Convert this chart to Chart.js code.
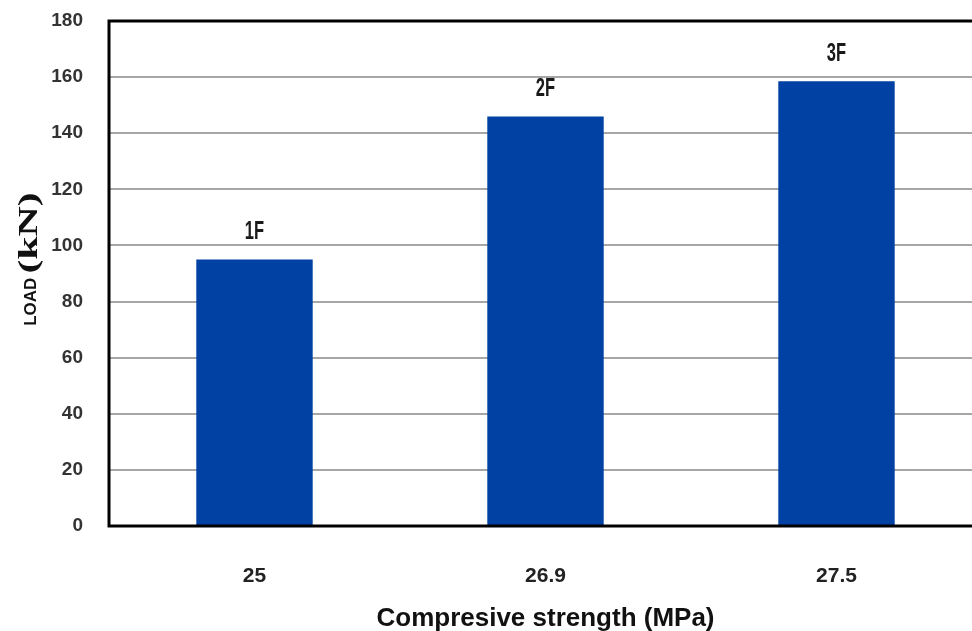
<!DOCTYPE html>
<html lang="en">
<head>
<meta charset="UTF-8">
<title>Load vs compressive strength</title>
<script src="https://cdn.jsdelivr.net/npm/chart.js"></script>
<style>
  html, body { margin: 0; padding: 0; background: #fff; overflow: hidden; }
</style>
</head>
<body>
<canvas id="grafico" width="985" height="631"></canvas>

<script>
// dados
var resistencias = ['25', '26.9', '27.5']
var cargas = [95, 146, 158.5]
var rotulos = ['1F', '2F', '3F']

// rotulos 1F/2F/3F em cima das barras (fonte estreita)
var rotulosBarras = {
  id: 'rotulosBarras',
  afterDatasetsDraw: function (chart) {
    var ctx = chart.ctx
    var meta = chart.getDatasetMeta(0)
    ctx.save()
    ctx.font = 'bold 25px "Liberation Sans", Arial, sans-serif'
    ctx.fillStyle = '#1a1a1a'
    ctx.textAlign = 'center'
    ctx.textBaseline = 'middle'
    for (var i = 0; i < meta.data.length; i++) {
      var barra = meta.data[i]
      ctx.save()
      ctx.translate(barra.x, barra.y - 27)
      ctx.scale(0.66, 1)
      ctx.fillText(rotulos[i], 0, 0)
      ctx.restore()
    }
    ctx.restore()
  }
}

// titulo do eixo y com duas fontes: LOAD (kN)
var tituloY = {
  id: 'tituloY',
  afterDraw: function (chart) {
    var ctx = chart.ctx
    ctx.save()
    ctx.translate(30, 259)
    ctx.rotate(-Math.PI / 2)
    ctx.fillStyle = '#111'
    ctx.textBaseline = 'middle'
    var f1 = 'bold 17px "Liberation Sans", Arial, sans-serif'
    var f2 = 'bold 27px "Liberation Serif", "DejaVu Serif", serif'
    var esticar = 1.55
    ctx.font = f1
    var w1 = ctx.measureText('LOAD').width + 4
    ctx.font = f2
    var w2 = ctx.measureText('(kN)').width * esticar
    var x0 = -(w1 + w2) / 2
    ctx.font = f1
    ctx.textAlign = 'left'
    ctx.fillText('LOAD', x0, 1)
    ctx.font = f2
    ctx.save()
    ctx.translate(x0 + w1, 0)
    ctx.scale(esticar, 1)
    ctx.fillText('(kN)', 0, 0)
    ctx.restore()
    ctx.restore()
  }
}

// moldura preta em volta da area do grafico
var moldura = {
  id: 'moldura',
  afterDatasetsDraw: function (chart) {
    var ctx = chart.ctx
    var a = chart.chartArea
    ctx.save()
    ctx.strokeStyle = '#000'
    ctx.lineWidth = 3
    ctx.strokeRect(a.left, a.top, a.right - a.left, a.bottom - a.top)
    ctx.restore()
  }
}

Chart.defaults.color = '#333'

new Chart(document.getElementById('grafico'), {
  type: 'bar',
  data: {
    labels: resistencias,
    datasets: [{
      label: 'LOAD',
      data: cargas,
      backgroundColor: '#0041a3',
      barPercentage: 0.4,
      categoryPercentage: 1.0
    }]
  },
  options: {
    responsive: false,
    animation: false,
    layout: { padding: { top: 21, right: 3, left: 0, bottom: 0 } },
    plugins: {
      legend: { display: false },
      tooltip: { enabled: false }
    },
    scales: {
      x: {
        grid: { display: false },
        border: { display: false },
        ticks: {
          color: '#222',
          padding: 30,
          font: { family: '"Liberation Sans", Arial, sans-serif', size: 21, weight: 'bold' }
        },
        title: {
          display: true,
          text: 'Compresive strength (MPa)',
          color: '#111',
          padding: { top: 10, bottom: 0 },
          font: { family: '"Liberation Sans", Arial, sans-serif', size: 26, weight: 'bold', lineHeight: 0.9 }
        },
        afterFit: function (scale) {
          scale.height = 105
          scale.paddingLeft = 0
          scale.paddingRight = 0
        }
      },
      y: {
        min: 0,
        max: 180,
        ticks: {
          stepSize: 20,
          color: '#333',
          padding: 26,
          font: { family: '"Liberation Sans", Arial, sans-serif', size: 19, weight: 'bold' }
        },
        grid: { color: '#a6a6a6', lineWidth: 2, drawTicks: false },
        border: { display: false },
        afterFit: function (scale) {
          scale.width = 109
          scale.paddingTop = 0
          scale.paddingBottom = 0
        }
      }
    }
  },
  plugins: [rotulosBarras, tituloY, moldura]
})
</script>
</body>
</html>
